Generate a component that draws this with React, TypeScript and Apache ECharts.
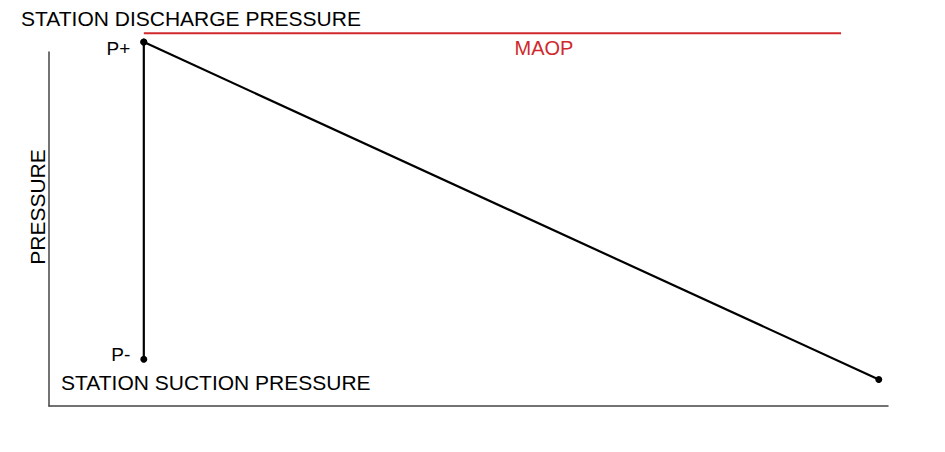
import React, { useEffect, useRef } from "react";
import * as echarts from "echarts";

// Data (distance along pipeline 0..100, pressure 0..100 in relative units)
const dischargePoint: [number, number] = [11.3, 102.8]; // P+
const suctionPoint: [number, number] = [11.3, 13.2]; // P-
const endPoint: [number, number] = [98.9, 7.5];
const maopLevel = 105.3;
const maopRange: number[] = [11.3, 94.4];
const pointLabels: string[] = ["P-", "P+"];
const texts = {
  discharge: "STATION DISCHARGE PRESSURE",
  suction: "STATION SUCTION PRESSURE",
  maop: "MAOP",
  yName: "PRESSURE",
};

const FONT = "'Liberation Sans', Arial, Helvetica, sans-serif";
const RED = "#d0282c";
const INK = "#000";

export default function App() {
  const ref = useRef<HTMLDivElement>(null);
  useEffect(() => {
    if (!ref.current) return;
    const chart = echarts.init(ref.current, null, { renderer: "svg" });
    chart.setOption({
      animation: false,
      backgroundColor: "#ffffff",
      grid: { left: 49, right: 57, top: 52, bottom: 46 },
      xAxis: {
        type: "value",
        min: 0,
        max: 100,
        axisLine: { show: true, lineStyle: { color: "#444", width: 1.5 } },
        axisTick: { show: false },
        axisLabel: { show: false },
        splitLine: { show: false },
      },
      yAxis: {
        type: "value",
        min: 0,
        max: 100,
        axisLine: { show: true, lineStyle: { color: "#444", width: 1.5 } },
        axisTick: { show: false },
        axisLabel: { show: false },
        splitLine: { show: false },
      },
      graphic: [
        {
          type: "text",
          left: 21,
          top: 8,
          style: { text: texts.discharge, font: `21px ${FONT}`, fill: INK },
        },
        {
          type: "text",
          left: 61,
          top: 372,
          style: { text: texts.suction, font: `21px ${FONT}`, fill: INK },
        },
        {
          type: "text",
          x: 37,
          y: 207,
          rotation: Math.PI / 2,
          style: {
            text: texts.yName,
            font: `21px ${FONT}`,
            fill: INK,
            align: "center",
            verticalAlign: "middle",
          },
        },
        {
          type: "text",
          x: 544,
          y: 48,
          style: {
            text: texts.maop,
            font: `20px ${FONT}`,
            fill: RED,
            align: "center",
            verticalAlign: "middle",
          },
        },
      ],
      series: [
        {
          type: "line",
          clip: false,
          data: maopRange.map((x) => [x, maopLevel]),
          symbol: "none",
          lineStyle: { color: RED, width: 2 },
          silent: true,
        },
        {
          type: "line",
          clip: false,
          data: [suctionPoint, dischargePoint],
          symbol: "circle",
          symbolSize: 7,
          itemStyle: { color: INK },
          lineStyle: { color: INK, width: 2.2 },
          label: {
            show: true,
            position: "left",
            distance: 10,
            fontFamily: FONT,
            fontSize: 19,
            color: INK,
            formatter: (p: any) => pointLabels[p.dataIndex],
          },
          labelLayout: (p: any) => ({ dy: p.dataIndex === 0 ? -5 : 6 }),
        },
        {
          type: "line",
          clip: false,
          data: [dischargePoint, endPoint],
          symbol: "circle",
          symbolSize: 7,
          itemStyle: { color: INK },
          lineStyle: { color: INK, width: 2.2 },
        },
      ],
    });
    return () => chart.dispose();
  }, []);
  return (
    <div
      ref={ref}
      style={{ position: "fixed", left: 0, top: 0, width: 945, height: 452 }}
    />
  );
}
